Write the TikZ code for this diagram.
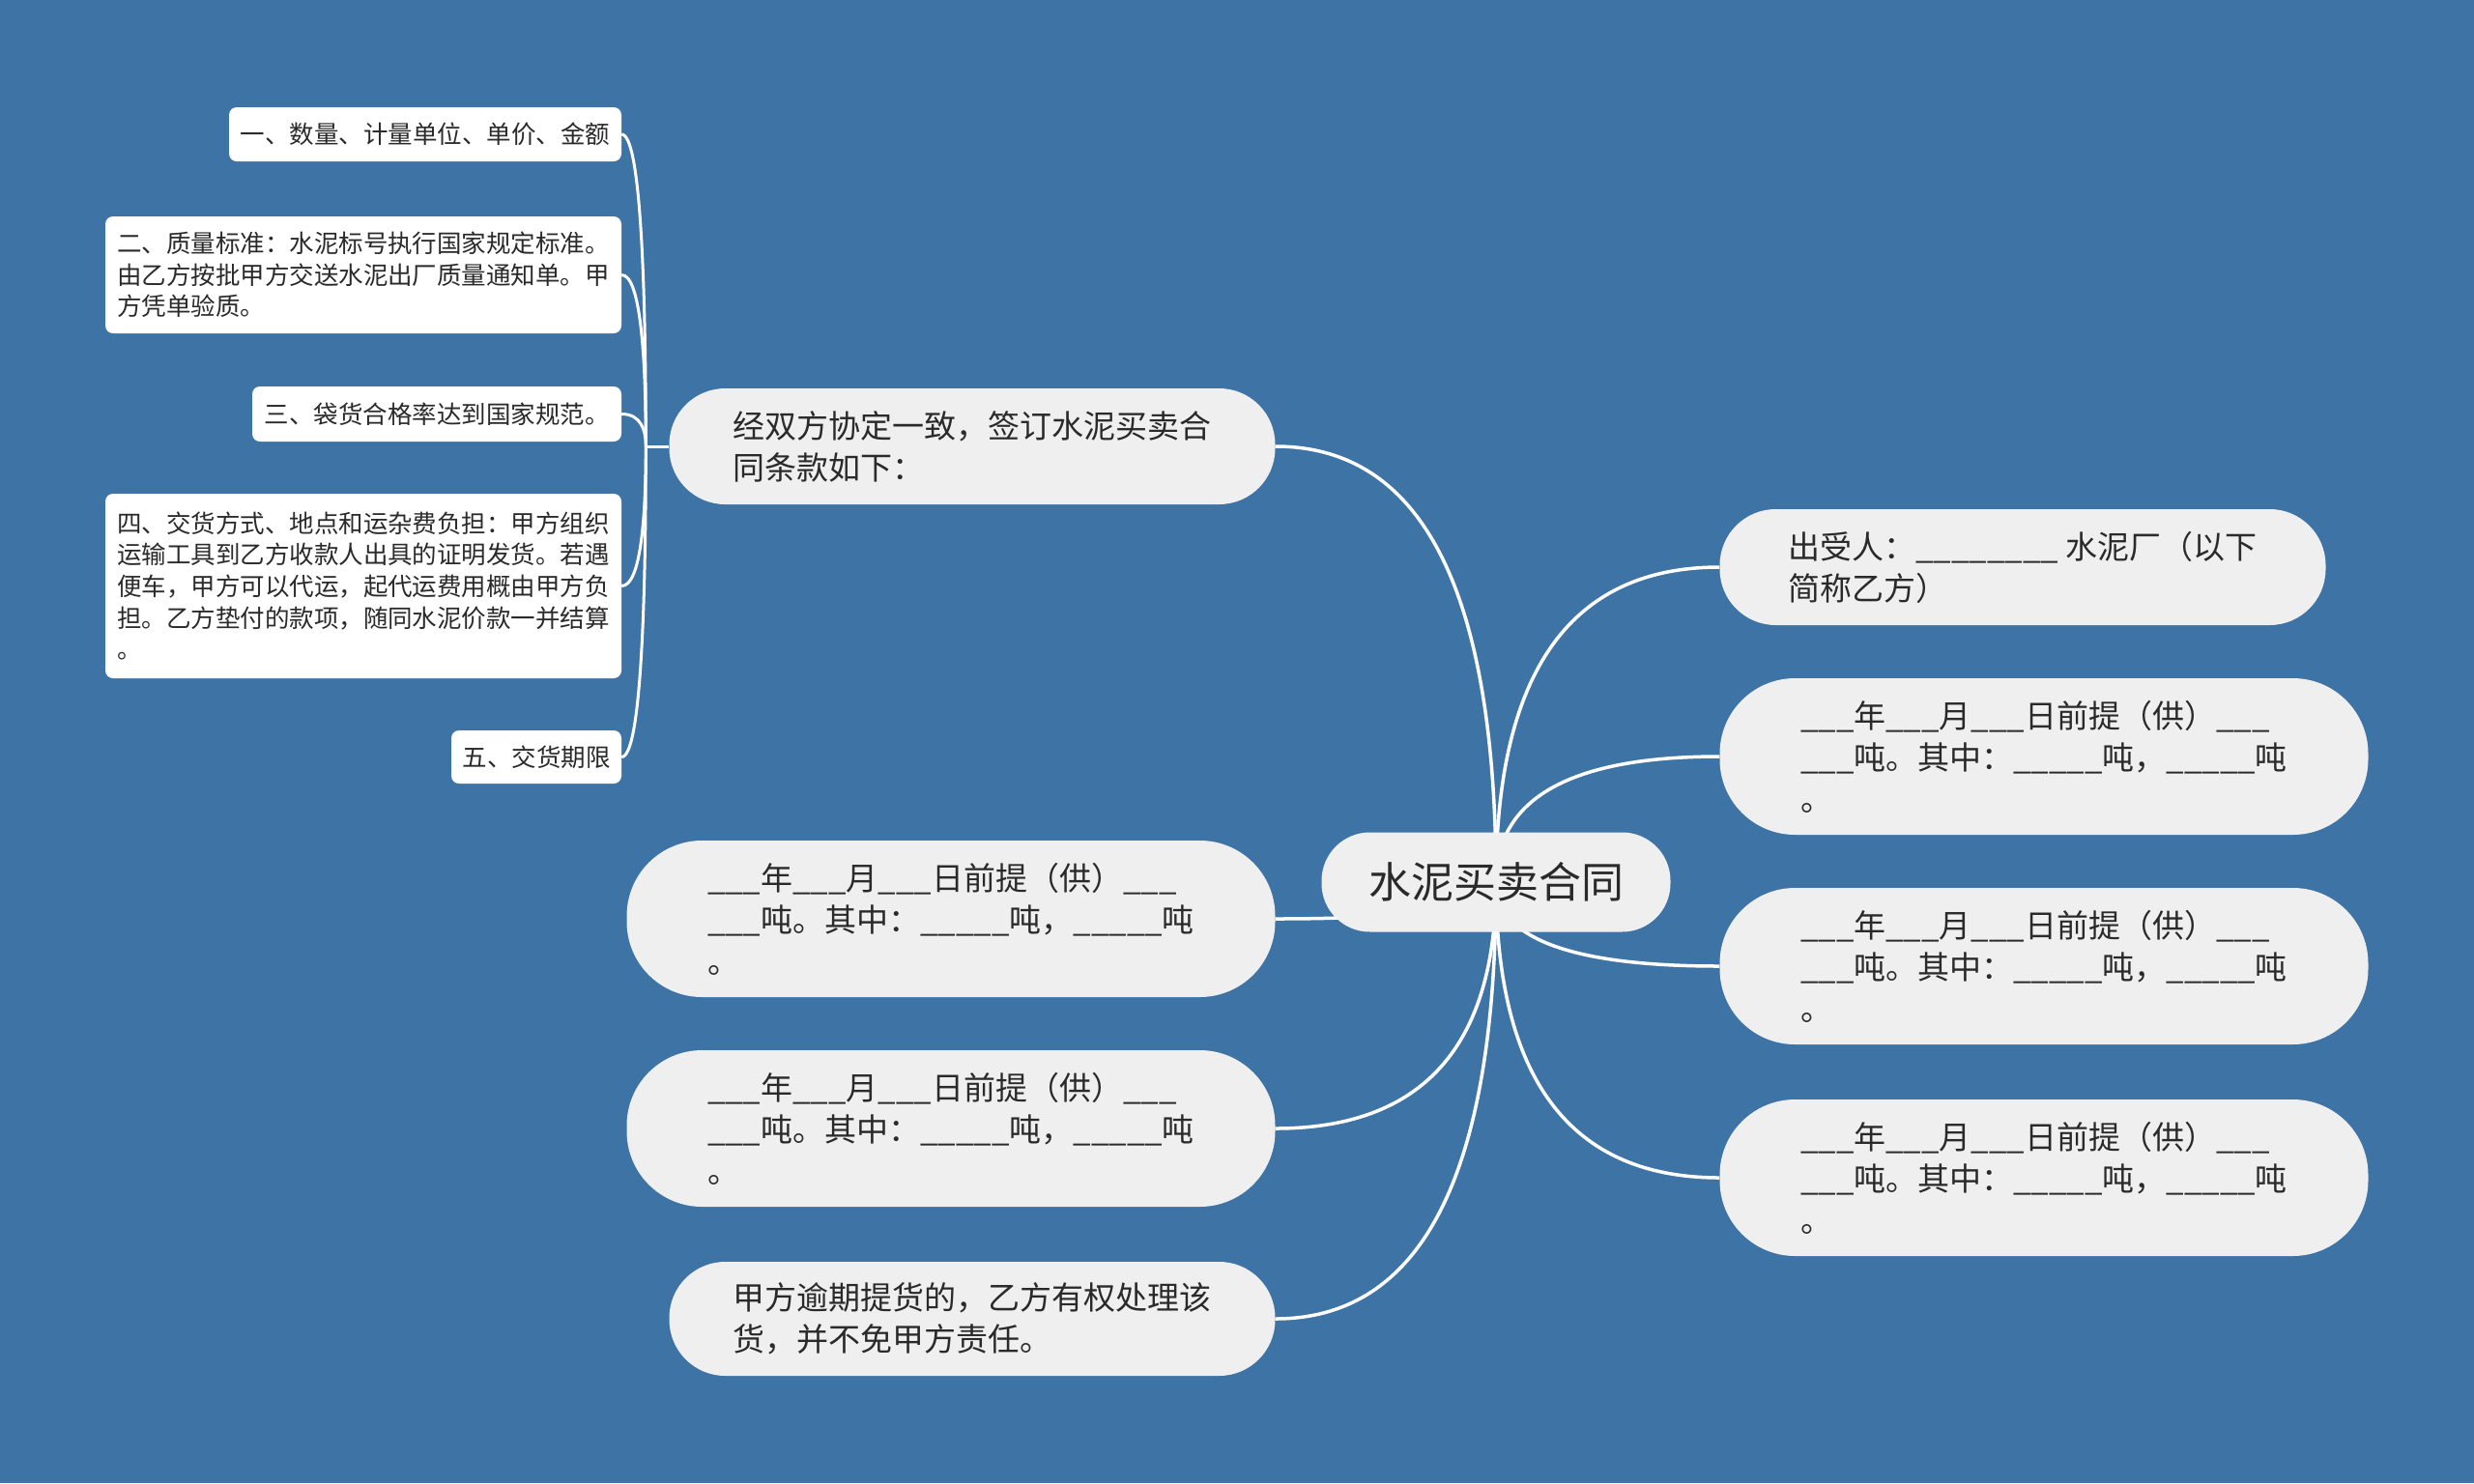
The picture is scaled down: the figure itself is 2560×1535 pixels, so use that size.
\documentclass[tikz,border=0pt]{standalone}
\usepackage{fontspec}
\setmainfont{Noto Sans CJK SC}
\usetikzlibrary{calc}
\pgfdeclarelayer{bg}
\pgfdeclarelayer{edges}
\pgfsetlayers{bg,edges,main}
\definecolor{bgblue}{HTML}{3E73A5}
\definecolor{pill}{HTML}{EFEFEF}
\definecolor{ink}{HTML}{2A2A2A}
\tikzset{
  pillnode/.style={fill=pill, text=ink, align=left, inner sep=0pt, font=\fontsize{33}{43}\selectfont},
  pillA/.style={pillnode, minimum width=627pt, minimum height=120pt, rounded corners=58pt},
  pillB/.style={pillnode, minimum width=671pt, minimum height=162pt, rounded corners=78pt},
  subnode/.style={fill=white, text=ink, align=left, inner sep=0pt, rounded corners=8pt, font=\fontsize{25.5}{32.7}\selectfont},
  link/.style={draw=white, line width=3.5pt},
  sublink/.style={draw=white, line width=3pt},
}
\newcommand\blanktext{\_\_\_年\_\_\_月\_\_\_日前提（供）\_\_\_\\\_\_\_吨。其中：\_\_\_\_\_吨，\_\_\_\_\_吨\\。}
\begin{document}
\begin{tikzpicture}[x=1pt,y=-1pt]
\begin{pgfonlayer}{bg}
\fill[bgblue] (0,0) rectangle (2560,1535);
\end{pgfonlayer}
% root
\node[pillnode, font=\fontsize{44}{52}\selectfont, minimum width=361pt, minimum height=103pt, rounded corners=50pt] (root) at (1548,913) {水泥买卖合同};
% left main nodes
\node[pillA] (L1) at (1006,462) {经双方协定一致，签订水泥买卖合\\同条款如下：};
\node[pillB] (L2) at (984,951) {\blanktext};
\node[pillB] (L3) at (984,1168) {\blanktext};
\node[pillA, minimum height=118pt] (L4) at (1006,1365) {甲方逾期提货的，乙方有权处理该\\货，并不免甲方责任。};
% right main nodes
\node[pillA] (R1) at (2093,587) {出受人：\_\_\_\_\_\_\_\_ 水泥厂（以下\\简称乙方）};
\node[pillB] (R2) at (2115,783) {\blanktext};
\node[pillB] (R3) at (2115,1000) {\blanktext};
\node[pillB] (R4) at (2115,1219) {\blanktext};
% sub nodes
\node[subnode, minimum width=406pt, minimum height=56pt] (S1) at (440,139) {一、数量、计量单位、单价、金额};
\node[subnode, minimum width=534pt, minimum height=121pt] (S2) at (376,284.5) {二、质量标准：水泥标号执行国家规定标准。\\由乙方按批甲方交送水泥出厂质量通知单。甲\\方凭单验质。};
\node[subnode, minimum width=382pt, minimum height=57pt] (S3) at (452,428.5) {三、袋货合格率达到国家规范。};
\node[subnode, minimum width=534pt, minimum height=191pt] (S4) at (376,606.5) {四、交货方式、地点和运杂费负担：甲方组织\\运输工具到乙方收款人出具的证明发货。若遇\\便车，甲方可以代运，起代运费用概由甲方负\\担。乙方垫付的款项，随同水泥价款一并结算\\。};
\node[subnode, minimum width=176pt, minimum height=55pt] (S5) at (555,783.5) {五、交货期限};
% connectors
\begin{pgfonlayer}{edges}
\foreach \n in {L1,L2,L3,L4}
  \draw[link] (root.center) .. controls ($(root.center)!0.667!(root.center |- \n.east)$) and ($(\n.east)!0.667!(root.center |- \n.east)$) .. (\n.east);
\foreach \n in {R1,R2,R3,R4}
  \draw[link] (root.center) .. controls ($(root.center)!0.667!(root.center |- \n.west)$) and ($(\n.west)!0.667!(root.center |- \n.west)$) .. (\n.west);
\coordinate (J) at ($(L1.west)+(-24,0)$);
\draw[sublink] (L1.west) -- (J);
\foreach \n in {S1,S2,S3,S4,S5}
  \draw[sublink] (J) .. controls ($(J)!0.5!(J |- \n.east)$) and ($(J |- \n.east)!0.2!(\n.east)$) .. (\n.east);
\end{pgfonlayer}
\end{tikzpicture}
\end{document}
